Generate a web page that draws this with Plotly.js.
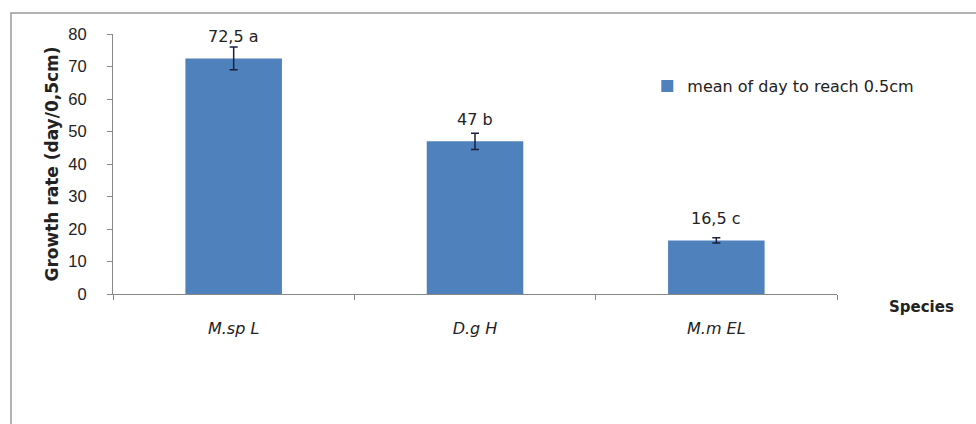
<!DOCTYPE html>
<html>
<head>
<meta charset="utf-8">
<script src="https://cdn.plot.ly/plotly-3.0.1.min.js"></script>
<style>html,body{margin:0;padding:0;background:#fff;}#chart{width:976px;height:424px;}</style>
</head>
<body>
<div id="chart"></div>
<script>
const categories = ["M.sp L", "D.g H", "M.m EL"];
const meanDays = [72.5, 47, 16.5];
const errors = [3.5, 2.5, 0.8];
const pointLabels = ["72,5 a", "47 b", "16,5 c"];
const seriesName = "mean of day to reach 0.5cm";
const yTicks = [0, 10, 20, 30, 40, 50, 60, 70, 80];

const FONT = "DejaVu Sans, Verdana, sans-serif";
const TICKFONT = "Liberation Sans, Arial, sans-serif";
const TXT = "#222";

const trace = {
  type: "bar",
  x: categories,
  y: meanDays,
  name: seriesName,
  width: 0.4,
  marker: {color: "#4F81BD", line: {width: 0}},
  error_y: {type: "data", array: errors, visible: true, color: "#1a1f3d", thickness: 1.5, width: 4},
  showlegend: true,
  hoverinfo: "skip"
};

const annotations = categories.map((c, i) => ({
  x: c, y: meanDays[i], xref: "x", yref: "y",
  text: pointLabels[i], showarrow: false,
  yanchor: "middle", yshift: 22,
  font: {family: FONT, size: 16, color: TXT}
}));
annotations.push({
  x: 1.117, y: -0.05, xref: "paper", yref: "paper",
  text: "<b>Species</b>", showarrow: false,
  xanchor: "center", yanchor: "middle",
  font: {family: FONT, size: 15, color: TXT}
});

const layout = {
  width: 976, height: 424,
  margin: {l: 113, r: 139, t: 34, b: 130},
  paper_bgcolor: "#fff", plot_bgcolor: "#fff",
  font: {family: FONT, size: 13, color: TXT},
  xaxis: {
    type: "category",
    tickvals: categories,
    ticktext: categories.map(c => "<i>" + c + "</i>"),
    tickson: "boundaries",
    ticks: "outside", ticklen: 5, tickcolor: "#888",
    ticklabelstandoff: 20,
    showline: true, linecolor: "#888", linewidth: 1,
    showgrid: false, zeroline: false,
    tickfont: {family: FONT, size: 16, color: TXT},
    fixedrange: true
  },
  yaxis: {
    range: [0, 80],
    tickvals: yTicks,
    ticks: "outside", ticklen: 5, tickcolor: "#888",
    ticklabelstandoff: 17,
    showline: true, linecolor: "#888", linewidth: 1,
    showgrid: false, zeroline: false,
    tickfont: {family: TICKFONT, size: 16.5, color: TXT},
    title: {text: "<b>Growth rate (day/0,5cm)</b>", font: {family: FONT, size: 17, color: TXT}, standoff: 5},
    fixedrange: true
  },
  legend: {
    x: 0.738, y: 0.8, xanchor: "left", yanchor: "middle",
    bgcolor: "rgba(0,0,0,0)",
    font: {family: FONT, size: 16, color: TXT},
    itemwidth: 30
  },
  annotations: annotations,
  shapes: [{
    type: "rect", xref: "paper", yref: "paper",
    x0: -0.1409, x1: 1.22, y0: -0.55, y1: 1.0808,
    line: {color: "#999", width: 1.5}, fillcolor: "rgba(0,0,0,0)", layer: "below"
  }]
};

Plotly.newPlot("chart", [trace], layout, {displayModeBar: false, staticPlot: true});
</script>
</body>
</html>
